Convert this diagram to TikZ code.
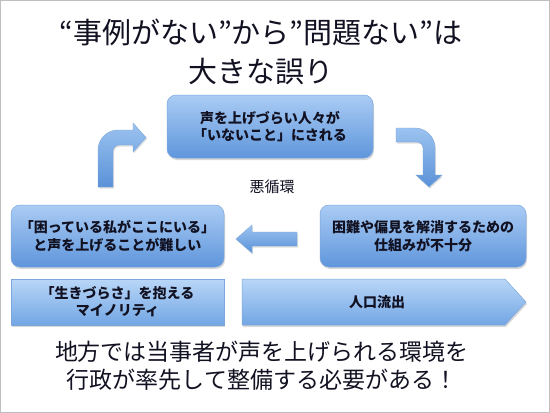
\documentclass[tikz,border=0pt]{standalone}
\usepackage{fontspec}
\setmainfont{Noto Sans CJK JP}
\usetikzlibrary{shadows}
\definecolor{boxtop}{HTML}{AACCF4}
\definecolor{boxbot}{HTML}{5F96DC}
\definecolor{boxline}{HTML}{7DA7DC}
\definecolor{bandtop}{HTML}{B9D6F7}
\definecolor{bandbot}{HTML}{72A6E4}
\definecolor{arrtop}{HTML}{9CC3F0}
\definecolor{arrbot}{HTML}{5A92D8}
\definecolor{txt}{HTML}{111122}
\begin{document}
\begin{tikzpicture}[x=1pt,y=-1pt,
  boxstyle/.style={rounded corners=9pt, draw=boxline, line width=0.5pt,
    top color=boxtop, bottom color=boxbot, align=center, text=txt,
    font=\bfseries\fontsize{14}{17.5}\selectfont, inner sep=0pt,
    drop shadow={shadow xshift=1pt, shadow yshift=-2pt, opacity=0.3}},
  bandstyle/.style={draw=boxline, line width=0.5pt,
    top color=bandtop, bottom color=bandbot,
    drop shadow={shadow xshift=1pt, shadow yshift=-2pt, opacity=0.3}},
  arrowshape/.style={draw=boxline, line width=0.4pt,
    top color=arrtop, bottom color=arrbot,
    drop shadow={shadow xshift=1pt, shadow yshift=-1.5pt, opacity=0.25}},
  bandtext/.style={align=center, text=txt, font=\bfseries\fontsize{14}{17}\selectfont},
  bigtext/.style={align=center, text=txt}
]
\useasboundingbox (0,0) rectangle (550,413);
\fill[white] (0,0) rectangle (550,413);
\draw[color=black!25, line width=1pt] (0.5,0.5) rectangle (549.5,412.5);

% title
\node[bigtext, font=\fontsize{29}{39}\selectfont] (title) at (261,52)
  {“事例がない”から”問題ない”は\\大きな誤り};

% boxes
\node[boxstyle, minimum width=206pt, minimum height=63pt] (top) at (270,126.5)
  {声を上げづらい人々が\\「いないこと」にされる};
\node[boxstyle, minimum width=213pt, minimum height=62pt] (left) at (117.5,236)
  {「困っている私がここにいる」\\と声を上げることが難しい};
\node[boxstyle, minimum width=206pt, minimum height=62pt] (right) at (423,236)
  {困難や偏見を解消するための\\仕組みが不十分};

\node[font=\fontsize{15}{18}\selectfont, text=txt] (loop) at (272,187) {悪循環};

% bottom band
\path[bandstyle] (11,279) rectangle (224,325);
\node[bandtext] (minority) at (117.5,302) {「生きづらさ」を抱える\\マイノリティ};
\path[bandstyle] (242,279) -- (505,279) -- (526,302) -- (505,325) -- (242,325) -- cycle;
\node[bandtext] (outflow) at (377,302) {人口流出};

% up-right bent arrow
\path[arrowshape] (98,187) -- (98,150) .. controls (98,139) and (107,130) .. (118,130)
  -- (133,130) -- (133,123) -- (146,137.5) -- (133,152) -- (133,145) -- (119,145)
  .. controls (115.7,145) and (113,147.7) .. (113,151) -- (113,187) -- cycle;

% down-right bent arrow
\path[arrowshape] (396,128) -- (415,128) .. controls (426,128) and (435,137) .. (435,148)
  -- (435,175) -- (442,175) -- (429,187) -- (416,175) -- (423,175) -- (423,148)
  .. controls (423,144.7) and (420.3,142) .. (417,142) -- (396,142) -- cycle;

% left arrow
\path[arrowshape] (297,232) -- (252,232) -- (252,225) -- (236,239) -- (252,253)
  -- (252,246) -- (297,246) -- cycle;

% bottom text
\node[bigtext, font=\fontsize{23}{28}\selectfont] (msg) at (262,366)
  {地方では当事者が声を上げられる環境を\\行政が率先して整備する必要がある！};
\end{tikzpicture}
\end{document}
